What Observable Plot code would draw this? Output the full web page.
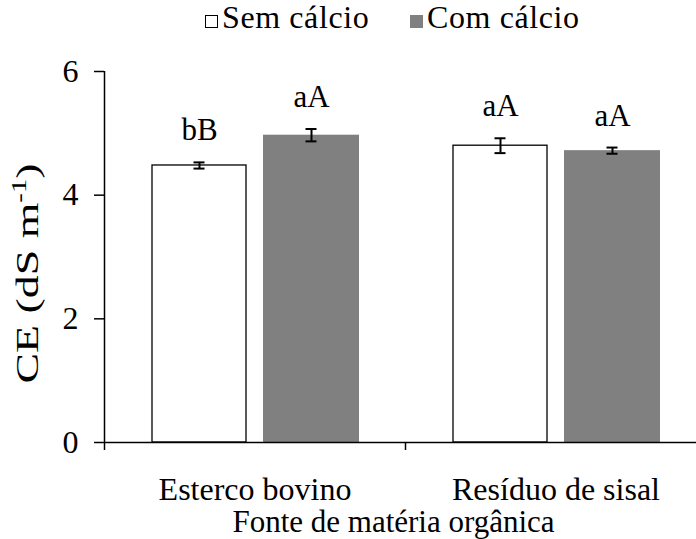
<!DOCTYPE html>
<html><head><meta charset="utf-8">
<script src="https://cdn.jsdelivr.net/npm/d3@7"></script>
<script src="https://cdn.jsdelivr.net/npm/@observablehq/plot@0.6"></script>
<style>
body{margin:0;background:#fff;font-family:"Times New Roman","Liberation Serif","DejaVu Serif",serif;}
#legend{height:45px;position:relative;font-size:32px;line-height:32px;color:#000;}
.item{position:absolute;top:1px;white-space:nowrap;letter-spacing:0.6px;}
.sw{display:inline-block;width:13px;height:13px;box-sizing:border-box;margin-right:4px;}
svg text{font-family:"Times New Roman","Liberation Serif","DejaVu Serif",serif !important;}
</style></head><body>
<div id="legend"></div>
<div id="chart"></div>
<script>
// ---- data ----
const groups = ["Esterco bovino", "Resíduo de sisal"];
const series = ["Sem cálcio", "Com cálcio"];
const semValues = [4.48, 4.80];
const semErr = [0.05, 0.12];
const semLetters = ["bB", "aA"];
const comValues = [4.97, 4.72];
const comErr = [0.10, 0.05];
const comLetters = ["aA", "aA"];
const yTicks = [0, 2, 4, 6];
const xTitle = "Fonte de matéria orgânica";
const yTitle = "CE (dS m-1)";
const seriesFill = ["white", "#808080"];

// ---- table ----
const sem = groups.map((g, i) => ({group: g, series: series[0], value: semValues[i], err: semErr[i], letter: semLetters[i]}));
const com = groups.map((g, i) => ({group: g, series: series[1], value: comValues[i], err: comErr[i], letter: comLetters[i]}));

// ---- legend ----
const legend = document.getElementById("legend");
const legendLeft = [205, 410];
series.forEach((s, i) => {
  const it = document.createElement("div");
  it.className = "item";
  it.style.left = legendLeft[i] + "px";
  const sw = document.createElement("span");
  sw.className = "sw";
  sw.style.background = seriesFill[i];
  sw.style.border = i === 0 ? "1.5px solid #000" : "none";
  it.appendChild(sw);
  it.appendChild(document.createTextNode(s));
  legend.appendChild(it);
});

// ---- geometry inside each category band (band = 301px) ----
const half = 150.5;
const semIn = {insetLeft: 48, insetRight: 159};
const comIn = {insetLeft: 159, insetRight: 46};
const semC = 95, comC = 207, capHalf = 5.5;
const semDx = semC - half, comDx = comC - half;
const semCap = {insetLeft: semC - capHalf, insetRight: 2 * half - semC - capHalf};
const comCap = {insetLeft: comC - capHalf, insetRight: 2 * half - comC - capHalf};

const errMarks = (data, dx, cap) => [
  Plot.ruleX(data, {x: "group", y1: d => d.value - d.err, y2: d => d.value + d.err, dx, stroke: "black", strokeWidth: 2}),
  Plot.tickY(data, {x: "group", y: d => d.value + d.err, ...cap, stroke: "black", strokeWidth: 2}),
  Plot.tickY(data, {x: "group", y: d => d.value - d.err, ...cap, stroke: "black", strokeWidth: 2})
];

const serif = '"Times New Roman","Liberation Serif","DejaVu Serif",serif';

const plot = Plot.plot({
  width: 696,
  height: 494,
  marginTop: 26,
  marginLeft: 104,
  marginRight: -10,
  marginBottom: 97,
  style: {fontFamily: serif, color: "black", background: "white"},
  x: {type: "band", domain: groups, padding: 0},
  y: {domain: [0, 6]},
  marks: [
    Plot.barY(sem, {x: "group", y: "value", fill: seriesFill[0], stroke: "black", strokeWidth: 1.3, ...semIn}),
    Plot.barY(com, {x: "group", y: "value", fill: seriesFill[1], ...comIn}),
    ...errMarks(sem, semDx, semCap),
    ...errMarks(com, comDx, comCap),
    Plot.text(sem, {x: "group", y: d => d.value + d.err, text: "letter", dx: semDx, dy: -22, lineAnchor: "bottom", fontSize: 31, fill: "black"}),
    Plot.text(com, {x: "group", y: d => d.value + d.err, text: "letter", dx: comDx, dy: -22, lineAnchor: "bottom", fontSize: 31, fill: "black"}),
    Plot.ruleY([0], {stroke: "black", strokeWidth: 1.5}),
    Plot.ruleX([groups[0]], {x: d => d, y1: 0, y2: 6, dx: -half, stroke: "black", strokeWidth: 1.5}),
    Plot.axisY({ticks: yTicks, tickFormat: d3.format("d"), tickSize: 10, tickPadding: 16, fontSize: 32, label: null, strokeWidth: 1.5}),
    Plot.axisX({tickSize: 0, tickPadding: 35, fontSize: 32, label: null}),
    Plot.axisX({tickSize: 8, tickFormat: () => "", dx: -half, label: null, strokeWidth: 1.5}),
    Plot.text([xTitle], {text: d => d, frameAnchor: "bottom", dx: -12, dy: 89, lineAnchor: "bottom", fontSize: 31, fill: "black"}),
    Plot.text([yTitle], {text: d => d, frameAnchor: "left", textAnchor: "middle", rotate: -90, dx: -67, dy: 16.5, lineAnchor: "bottom", fontSize: 32, fill: "black"})
  ]
});
document.getElementById("chart").appendChild(plot);

// superscript in the y title, stretched along its length as in the original
d3.select(plot).selectAll("text").filter(function() { return this.textContent === yTitle; }).each(function() {
  const t = d3.select(this);
  t.text(null);
  t.attr("textLength", 220).attr("lengthAdjust", "spacingAndGlyphs");
  t.append("tspan").text("CE (dS m");
  t.append("tspan").attr("dy", -12).attr("font-size", 20).text("-1");
  t.append("tspan").attr("dy", 12).text(")");
});
</script>
</body></html>
